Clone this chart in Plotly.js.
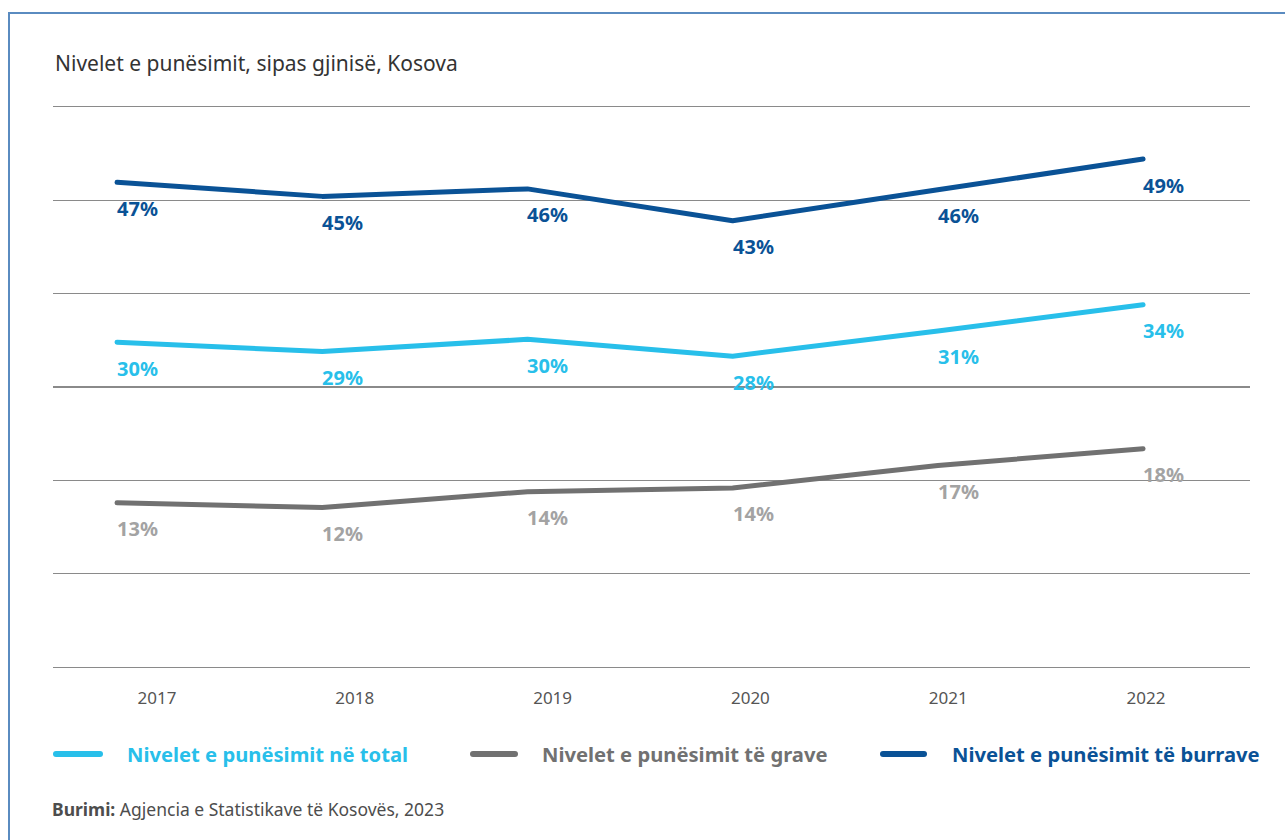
<!DOCTYPE html>
<html>
<head>
<meta charset="utf-8">
<script src="https://cdn.plot.ly/plotly-3.0.1.min.js"></script>
<style>
  html, body { margin: 0; padding: 0; background: #ffffff; }
  #chart { width: 1285px; height: 840px; }
  .js-line { stroke-linecap: round; stroke-linejoin: round; }
  .shapelayer path { stroke-linecap: round; }
</style>
</head>
<body>
<div id="chart"></div>
<script>
// ---- data ----
const years = [2017, 2018, 2019, 2020, 2021, 2022];
const totalRate = [29.8, 28.8, 30.1, 28.3, 31.0, 33.8];
const womenRate = [12.6, 12.1, 13.8, 14.2, 16.6, 18.4];
const menRate   = [46.9, 45.4, 46.2, 42.8, 46.1, 49.4];
const seriesNames = [
  "Nivelet e punësimit në total",
  "Nivelet e punësimit të grave",
  "Nivelet e punësimit të burrave"
];
const titleText = "Nivelet e punësimit, sipas gjinisë, Kosova";
const sourceLabel = "Burimi:";
const sourceText = "Agjencia e Statistikave të Kosovës, 2023";

// ---- styling ----
const FONT = "Noto Sans, Open Sans, sans-serif";
const lineColors  = ["#28BFEA", "#717171", "#0A5296"];
const labelColors = ["#28BFEA", "#A3A3A3", "#0A5296"];
const legendTextColors = ["#28BFEA", "#717171", "#0A5296"];
const values = [totalRate, womenRate, menRate];

const W = 1285, H = 840;
const M = { l: 53, r: 35, t: 102, b: 168 };
const PW = W - M.l - M.r, PH = H - M.t - M.b;
const px2x = px => (px - M.l) / PW;
const py2y = py => (H - M.b - py) / PH;

const traces = values.map((v, i) => ({
  type: "scatter",
  mode: "lines",
  x: years,
  y: v,
  name: seriesNames[i],
  line: { color: lineColors[i], width: 5 },
  showlegend: false,
  hoverinfo: "x+y+name"
}));
// helper trace so the tick-label axis is drawn
traces.push({
  type: "scatter", mode: "lines", x: years, y: years.map(() => null),
  xaxis: "x2", showlegend: false, hoverinfo: "skip"
});

const annotations = [];
values.forEach((v, si) => {
  v.forEach((val, i) => {
    annotations.push({
      x: years[i], y: val, xref: "x", yref: "y",
      text: Math.round(val) + "%",
      showarrow: false, xanchor: "left", yanchor: "middle",
      xshift: -2, yshift: -26,
      font: { family: FONT, size: 20, color: labelColors[si], weight: 700 }
    });
  });
});

// legend (drawn as shapes + annotations)
const legendY = py2y(754);
const legendLines = [[53, 103], [470, 518], [880, 927]];
const legendTextX = [125, 540, 950];
const shapes = [];
seriesNames.forEach((n, i) => {
  shapes.push({
    type: "line", xref: "paper", yref: "paper",
    x0: px2x(legendLines[i][0] + 3), x1: px2x(legendLines[i][1] - 3),
    y0: legendY, y1: legendY,
    line: { color: lineColors[i], width: 6 }
  });
  annotations.push({
    xref: "paper", yref: "paper", x: px2x(legendTextX[i]), y: legendY,
    xanchor: "left", yanchor: "middle", showarrow: false,
    text: "<b>" + n + "</b>",
    font: { family: FONT, size: 20.2, color: legendTextColors[i] }
  });
});

// source
annotations.push({
  xref: "paper", yref: "paper", x: px2x(50), y: py2y(809),
  xanchor: "left", yanchor: "middle", showarrow: false,
  text: "<b>" + sourceLabel + "</b> " + sourceText,
  font: { family: FONT, size: 17.5, color: "#4D4D4D" }
});

// outer frame
shapes.push({
  type: "rect", xref: "paper", yref: "paper",
  x0: px2x(9), x1: px2x(W + 20), y0: py2y(13), y1: py2y(H + 20),
  line: { color: "#5A8BC0", width: 2 }, fillcolor: "rgba(0,0,0,0)", layer: "below"
});

const layout = {
  width: W, height: H,
  margin: M,
  paper_bgcolor: "#ffffff", plot_bgcolor: "#ffffff",
  font: { family: FONT, color: "#333333" },
  title: {
    text: titleText,
    x: 55 / W, xanchor: "left", xref: "container",
    y: 1 - 64 / H, yanchor: "middle", yref: "container",
    font: { family: FONT, size: 21, color: "#333333" }
  },
  xaxis: {
    range: [2016.688, 2022.521],
    showgrid: false, zeroline: false, showline: false, showticklabels: false,
    fixedrange: true
  },
  xaxis2: {
    overlaying: "x", anchor: "y", side: "bottom",
    range: [2016.474, 2022.526],
    tickmode: "array", tickvals: years, ticktext: years.map(String),
    showgrid: false, zeroline: false, showline: false, ticks: "",
    tickfont: { family: FONT, size: 17, color: "#555555" },
    ticklabelstandoff: 14
  },
  yaxis: {
    range: [-5.5, 55.5],
    tick0: -5, dtick: 10,
    showgrid: true, gridcolor: "#8A8A8A", gridwidth: 1.2,
    zeroline: false, showline: false, showticklabels: false, ticks: ""
  },
  showlegend: false,
  annotations: annotations,
  shapes: shapes
};

Plotly.newPlot("chart", traces, layout, { displayModeBar: false, staticPlot: true });
</script>
</body>
</html>
